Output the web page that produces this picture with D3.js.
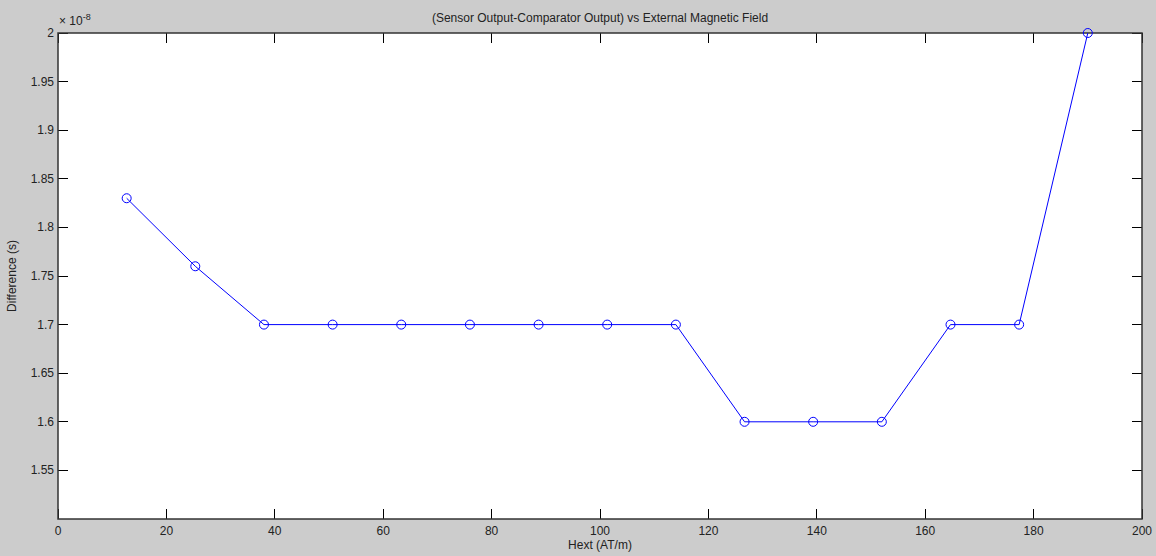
<!DOCTYPE html>
<html>
<head>
<meta charset="utf-8">
<script src="https://cdn.jsdelivr.net/npm/d3@7"></script>
<style>
  body { margin: 0; background: #cccccc; }
  text { font-family: "Liberation Sans", Arial, sans-serif; fill: #222; }
</style>
</head>
<body>
<script>
// data (difference in units of 1e-8 s)
var hext = [12.67, 25.33, 38, 50.67, 63.33, 76, 88.67, 101.33, 114, 126.67, 139.33, 152, 164.67, 177.33, 190];
var diff = [1.83, 1.76, 1.70, 1.70, 1.70, 1.70, 1.70, 1.70, 1.70, 1.60, 1.60, 1.60, 1.70, 1.70, 2.00];
var xTicks = [0, 20, 40, 60, 80, 100, 120, 140, 160, 180, 200];
var yTicks = [1.55, 1.6, 1.65, 1.7, 1.75, 1.8, 1.85, 1.9, 1.95, 2];

var w = 1156, h = 556;
var padL = 58, padR = 1142, padT = 33, padB = 519;

var svg = d3.select("body").append("svg")
  .attr("width", w)
  .attr("height", h)
  .style("display", "block");

svg.append("rect")
  .attr("width", w).attr("height", h)
  .attr("fill", "#cccccc");

var x = d3.scaleLinear().domain([0, 200]).range([padL, padR]);
var y = d3.scaleLinear().domain([1.5, 2]).range([padB, padT]);

svg.append("rect")
  .attr("x", padL).attr("y", padT)
  .attr("width", padR - padL).attr("height", padB - padT)
  .attr("fill", "#fff");

var tickLen = 10;
var ax = svg.append("g").attr("stroke", "#000").attr("stroke-width", 1).attr("shape-rendering", "crispEdges");

xTicks.forEach(function(t) {
  ax.append("line").attr("x1", x(t)).attr("x2", x(t)).attr("y1", padB).attr("y2", padB - tickLen);
  ax.append("line").attr("x1", x(t)).attr("x2", x(t)).attr("y1", padT).attr("y2", padT + tickLen);
});
yTicks.forEach(function(t) {
  ax.append("line").attr("x1", padL).attr("x2", padL + tickLen).attr("y1", y(t)).attr("y2", y(t));
  ax.append("line").attr("x1", padR).attr("x2", padR - tickLen).attr("y1", y(t)).attr("y2", y(t));
});

svg.append("rect")
  .attr("x", padL).attr("y", padT)
  .attr("width", padR - padL).attr("height", padB - padT)
  .attr("fill", "none")
  .attr("stroke", "#333")
  .attr("stroke-width", 1.5);

svg.selectAll(".xt")
  .data(xTicks)
  .enter()
  .append("text")
  .attr("x", function(d) { return x(d); })
  .attr("y", padB + 16)
  .attr("text-anchor", "middle")
  .attr("font-size", "12px")
  .text(function(d) { return d; });

svg.selectAll(".yt")
  .data(yTicks)
  .enter()
  .append("text")
  .attr("x", padL - 4)
  .attr("y", function(d) { return y(d) + 4; })
  .attr("text-anchor", "end")
  .attr("font-size", "12px")
  .text(function(d) { return d; });

// exponent
var ex = svg.append("text")
  .attr("x", padL + 1)
  .attr("y", padT - 8)
  .attr("font-size", "12px");
ex.append("tspan").text("\u00d7 10");
ex.append("tspan").attr("dy", -5).attr("font-size", "9px").text("-8");

svg.append("text")
  .attr("x", (padL + padR) / 2)
  .attr("y", 22)
  .attr("text-anchor", "middle")
  .attr("font-size", "12px")
  .text("(Sensor Output-Comparator Output) vs External Magnetic Field");

svg.append("text")
  .attr("x", (padL + padR) / 2)
  .attr("y", 549)
  .attr("text-anchor", "middle")
  .attr("font-size", "12px")
  .text("Hext (AT/m)");

svg.append("text")
  .attr("transform", "translate(16," + ((padT + padB) / 2) + ") rotate(-90)")
  .attr("text-anchor", "middle")
  .attr("font-size", "12px")
  .text("Difference (s)");

var pts = hext.map(function(d, i) { return [d, diff[i]]; });

svg.append("path")
  .datum(pts)
  .attr("fill", "none")
  .attr("stroke", "#0000ff")
  .attr("stroke-width", 1)
  .attr("d", d3.line()
    .x(function(d) { return x(d[0]); })
    .y(function(d) { return y(d[1]); }));

svg.selectAll(".mk")
  .data(pts)
  .enter()
  .append("circle")
  .attr("cx", function(d) { return x(d[0]); })
  .attr("cy", function(d) { return y(d[1]); })
  .attr("r", 4.5)
  .attr("fill", "none")
  .attr("stroke", "#0000ff")
  .attr("stroke-width", 1);
</script>
</body>
</html>
